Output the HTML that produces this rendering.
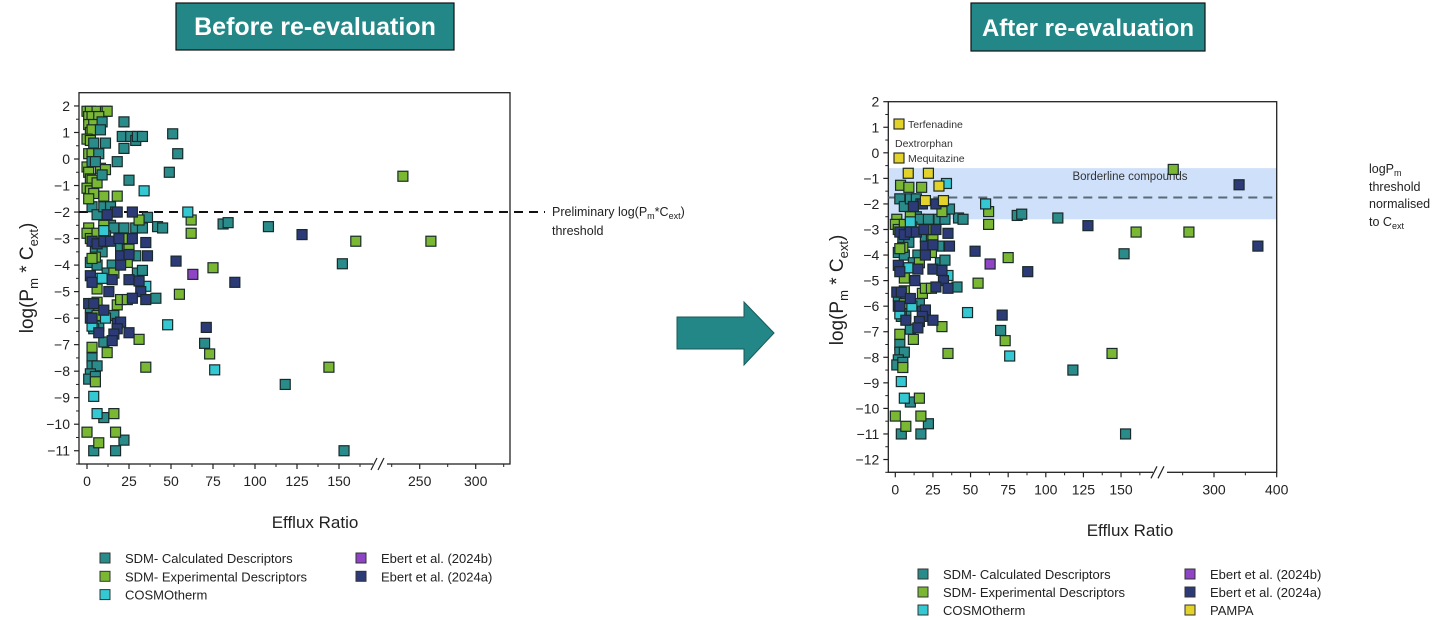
<!DOCTYPE html>
<html><head><meta charset="utf-8"><title>Efflux ratio before/after re-evaluation</title>
<style>
html,body{margin:0;padding:0;background:#fff;}
svg{display:block;font-family:"Liberation Sans",Arial,sans-serif;}
.tt{font-family:"Liberation Sans",sans-serif;font-weight:bold;fill:#fff;font-size:25px;}
</style></head>
<body>
<svg id="fig" width="1439" height="620" viewBox="0 0 1439 620" xmlns="http://www.w3.org/2000/svg">
  <g>
    <rect x="176" y="3" width="278" height="47" fill="#238787" stroke="#111" stroke-width="1.2"/>
    <text class="tt" x="315" y="35" text-anchor="middle">Before re-evaluation</text>
  </g>
  <g>
    <rect x="971" y="3" width="234" height="48" fill="#238787" stroke="#111" stroke-width="1.2"/>
    <text class="tt" x="1088" y="36" text-anchor="middle" style="font-size:24px">After re-evaluation</text>
  </g>
  <polygon points="677,317 744,317 744,302 774,333 744,365 744,349 677,349" fill="#238787" stroke="#1a5a5a" stroke-width="1"/>
  <g id="left"></g>
  <g id="right"></g>
</svg>
<script>
// series: T=SDM calculated, G=SDM experimental, C=COSMOtherm, P=Ebert 2024b, N=Ebert 2024a, Y=PAMPA
const sharedX = [3,6,10,14,17,14,16,22,29,33,42,45,36,81,84,108,11,20,24,29,5,9,2,6,15,12,30,33,41,2,7,16,5,7,10,4,3,3,6,2,1,5,10,22,4,17,118,70,152,153,
 1,0,2,6,10,22,25,24,16,5,3,6,6,18,20,24,6,31,62,62,75,55,31,3,12,35,73,144,5,16,17,0,7,235,160,260,
 34,60,10,7,9,35,11,3,48,76,4,6,
 27,18,12,3,6,10,14,19,27,35,36,20,25,20,2,3,15,25,31,13,32,27,35,1,4,2,3,10,18,20,18,16,7,25,15,53,88,71,128,
 63];
const sharedY = [-1.8,-2.1,-1.8,-1.8,-2.0,-2.5,-2.6,-2.6,-2.6,-2.6,-2.55,-2.6,-2.2,-2.45,-2.4,-2.55,-2.9,-3.3,-3.4,-3.65,-3.5,-3.5,-3.9,-4.0,-4.0,-4.3,-4.3,-4.2,-5.25,-5.6,-5.7,-5.9,-6.2,-6.3,-6.9,-6.4,-7.5,-7.8,-7.8,-8.1,-8.3,-8.2,-9.75,-10.6,-11,-11,-8.5,-6.95,-3.95,-11,
 -2.6,-2.8,-3.0,-2.8,-2.5,-3.0,-3.4,-3.9,-4.3,-3.7,-3.75,-4.9,-5.4,-5.5,-5.3,-5.3,-5.9,-2.3,-2.3,-2.8,-4.1,-5.1,-6.8,-7.1,-7.3,-7.85,-7.35,-7.85,-8.4,-9.6,-10.3,-10.3,-10.7,-0.65,-3.1,-3.1,
 -1.2,-2.0,-2.7,-4.5,-4.5,-4.8,-6.0,-6.3,-6.25,-7.95,-8.95,-9.6,
 -2.0,-2.0,-2.1,-3.1,-3.2,-3.1,-3.1,-3.0,-3.0,-3.15,-3.65,-3.65,-3.6,-4.0,-4.4,-4.65,-4.55,-4.55,-4.6,-5.0,-5.0,-5.25,-5.3,-5.45,-5.45,-6.0,-6.0,-5.7,-6.2,-6.15,-6.4,-6.6,-6.55,-6.55,-6.85,-3.85,-4.65,-6.35,-2.85,
 -4.35];
const sharedS = "TTTTTTTTTTTTTTTTTTTTTTTTTTTTTTTTTTTTTTTTTTTTTTTTTT"+"GGGGGGGGGGGGGGGGGGGGGGGGGGGGGGGGGGGG"+"CCCCCCCCCCCC"+"NNNNNNNNNNNNNNNNNNNNNNNNNNNNNNNNNNNNNNN"+"P";
const leftOnlyX = [0,2,6,11,12,1,3,7,1,4,2,3,0,2,1,3,0,1,2,3,8,11,0,2,4,10,18,1,6, 9,8,4,11,22,21,26,29,30,33,22,18,7,3,5,9,25,51,54,49];
const leftOnlyY = [1.8,1.8,1.8,1.8,1.8,1.6,1.6,1.6,1.3,1.3,1.0,1.1,0.75,0.7,0.2,0.2,-0.3,-0.5,-0.75,-0.8,-0.35,-0.4,-1.1,-1.2,-1.3,-1.4,-1.4,-1.5,-0.9, 1.4,1.1,0.6,0.6,1.4,0.85,0.85,0.7,0.85,0.85,0.4,-0.1,0.2,-0.1,-0.1,-0.6,-0.8,0.95,0.2,-0.5];
const leftOnlyS = "GGGGGGGGGGGGGGGGGGGGGGGGGGGGG"+"TTTTTTTTTTTTTTTTTTTT";
const rightOnlyX = [3.5,9,17.5,8.6,22,29,20,32,340,370];
const rightOnlyY = [-1.27,-1.35,-1.35,-0.8,-0.8,-1.3,-1.87,-1.87,-1.25,-3.65];
const rightOnlyS = "GGGYYYYYNN";
const yTicks = [2,1,0,-1,-2,-3,-4,-5,-6,-7,-8,-9,-10,-11,-12];
const leftXTicks = [0,25,50,75,100,125,150,250,300];
const rightXTicks = [0,25,50,75,100,125,150,300,400];
const legendLabels = ["SDM- Calculated Descriptors","SDM- Experimental Descriptors","COSMOtherm","Ebert et al. (2024b)","Ebert et al. (2024a)","PAMPA"];
const legendKeys = "TGCPNY";
const leftThreshold = -2;
const rightThreshold = -1.75;
const bandTop = -0.6, bandBottom = -2.6;

const COL = {T:"#2a8c8a",G:"#7ab833",C:"#34c8d2",P:"#8e44c4",N:"#2c3a78",Y:"#e2d22a"};
const NS = "http://www.w3.org/2000/svg";
function mk(parent, tag, attrs, text){
  const e = document.createElementNS(NS, tag);
  for (const k in attrs) e.setAttribute(k, attrs[k]);
  if (text !== undefined) e.textContent = text;
  parent.appendChild(e); return e;
}

function drawPlot(g, cfg){
  const {x0,x1,yTop,yBot,yMax,yMin,xm,brk} = cfg;
  const ys = v => yTop + (yMax - v) * (yBot - yTop) / (yMax - yMin);
  if (cfg.band){
    const b = mk(g,"rect",{x:x0,y:ys(bandTop),width:x1-x0,height:ys(bandBottom)-ys(bandTop),fill:"#cfe0fa"});
    
    
    const bt = mk(g,"text",{x:1130,y:ys(bandTop)+12,"text-anchor":"middle","font-size":"11.5",fill:"#333"},"Borderline compounds");
    
    
  }
  const fr = mk(g,"rect",{x:x0,y:yTop,width:x1-x0,height:yBot-yTop,fill:"none",stroke:"#222","stroke-width":"1.3"});
  
  
  yTicks.forEach(v=>{
    if (v < yMin || v > yMax) return;
    const y = ys(v);
    mk(g,"line",{x1:x0-5,x2:x0,y1:y,y2:y,stroke:"#222","stroke-width":"1.2"});
    if (v-0.5 >= yMin) mk(g,"line",{x1:x0-3,x2:x0,y1:ys(v-0.5),y2:ys(v-0.5),stroke:"#222","stroke-width":"1"});
    const t = mk(g,"text",{x:x0-9,y:y+5,"text-anchor":"end","font-size":"14",fill:"#222"},v<0?"\u2212"+(-v):String(v));
    
    
  });
  cfg.xticks.forEach(v=>{
    const x = xm(v);
    mk(g,"line",{x1:x,x2:x,y1:yBot,y2:yBot+5,stroke:"#222","stroke-width":"1.2"});
    const t = mk(g,"text",{x:x,y:yBot+22,"text-anchor":"middle","font-size":"14",fill:"#222"},String(v));
    
    
  });
  cfg.minor.forEach(v=>{ const x=xm(v); mk(g,"line",{x1:x,x2:x,y1:yBot,y2:yBot+3,stroke:"#222"}); });
  mk(g,"rect",{x:brk-7,y:yBot-3,width:14,height:8,fill:"#fff"});
  mk(g,"line",{x1:brk-9,y1:yBot+6,x2:brk-3,y2:yBot-6,stroke:"#222","stroke-width":"1.2"});
  mk(g,"line",{x1:brk-2,y1:yBot+6,x2:brk+4,y2:yBot-6,stroke:"#222","stroke-width":"1.2"});
  const th = mk(g,"line",{x1:x0,x2:cfg.thEnd,y1:ys(cfg.th),y2:ys(cfg.th),stroke:cfg.thColor,"stroke-width":"2","stroke-dasharray":cfg.dash});
  
  
  cfg.sets.forEach(([X,Y,S])=>{
    for (let i=0;i<X.length;i++){
      const px = xm(X[i]), py = ys(Y[i]);
      const r = mk(g,"rect",{x:px-5,y:py-5,width:10,height:10,fill:COL[S[i]],stroke:"#1a2a2a","stroke-width":"1.2"});
      
      
    }
  });
  return ys;
}

const L = document.getElementById('left');
const xmL = v => v <= 200 ? 87 + v*1.68 : 419.7 + (v-250)*1.12;
drawPlot(L,{x0:79,x1:510,yTop:92.7,yBot:464,yMax:2.5,yMin:-11.5,xm:xmL,brk:380,
  xticks:leftXTicks,minor:[12.5,37.5,62.5,87.5,112.5,137.5,162.5,225,275,325],
  th:leftThreshold,thEnd:545,thColor:"#111",dash:"9,6",
  sets:[[sharedX,sharedY,sharedS],[leftOnlyX,leftOnlyY,leftOnlyS]]});

const R = document.getElementById('right');
const xmR = v => v <= 200 ? 895.3 + v*1.505 : 1214 + (v-300)*0.627;
drawPlot(R,{x0:888.3,x1:1276.7,yTop:101.7,yBot:472.3,yMax:2,yMin:-12.5,xm:xmR,brk:1160,band:true,
  xticks:rightXTicks,minor:[12.5,37.5,62.5,87.5,112.5,137.5,162.5,250,350],
  th:rightThreshold,thEnd:1276.7,thColor:"#5a6a7a",dash:"9,6",
  sets:[[sharedX,sharedY,sharedS],[rightOnlyX,rightOnlyY,rightOnlyS]]});

function addText(parent,attrs,html,name){
  const t = mk(parent,"text",attrs);
  t.innerHTML = html;
  
  
  return t;
}
const F = document.getElementById('fig');
addText(F,{x:0,y:0,transform:"translate(33,278) rotate(-90)","text-anchor":"middle","font-size":"19",fill:"#222"},
 'log(P<tspan font-size="13" dy="5">m</tspan><tspan dy="-5"> * C</tspan><tspan font-size="13" dy="5">ext</tspan><tspan dy="-5">)</tspan>','left-y-axis-title');
addText(F,{x:0,y:0,transform:"translate(843,290) rotate(-90)","text-anchor":"middle","font-size":"19",fill:"#222"},
 'log(P<tspan font-size="13" dy="5">m</tspan><tspan dy="-5"> * C</tspan><tspan font-size="13" dy="5">ext</tspan><tspan dy="-5">)</tspan>','right-y-axis-title');
addText(F,{x:315,y:528,"text-anchor":"middle","font-size":"17",fill:"#222"},'Efflux Ratio','left-x-axis-title');
addText(F,{x:1130,y:536,"text-anchor":"middle","font-size":"17",fill:"#222"},'Efflux Ratio','right-x-axis-title');
addText(F,{x:552,y:216,"font-size":"12.5",fill:"#222"},'Preliminary log(P<tspan font-size="9" dy="3">m</tspan><tspan dy="-3">*C</tspan><tspan font-size="9" dy="3">ext</tspan><tspan dy="-3">)</tspan>','left-threshold-label');
addText(F,{x:552,y:235,"font-size":"12.5",fill:"#222"},'threshold','left-threshold-label-2');
addText(F,{x:1369,y:173,"font-size":"12.5",fill:"#222"},'logP<tspan font-size="9" dy="3">m</tspan>','right-threshold-label');
addText(F,{x:1369,y:191,"font-size":"12.5",fill:"#222"},'threshold','right-threshold-label-2');
addText(F,{x:1369,y:208,"font-size":"12.5",fill:"#222"},'normalised','right-threshold-label-3');
addText(F,{x:1369,y:226,"font-size":"12.5",fill:"#222"},'to C<tspan font-size="9" dy="3">ext</tspan>','right-threshold-label-4');
const ann = [[899,124,"Y","Terfenadine"],[899,158,"Y","Mequitazine"]];
ann.forEach(a=>{
  const r = mk(F,"rect",{x:a[0]-5,y:a[1]-5,width:10,height:10,fill:COL[a[2]],stroke:"#222","stroke-width":"1.1"});
  
  
  addText(F,{x:a[0]+9,y:a[1]+4,"font-size":"10.5",fill:"#333"},a[3],'annotation-'+a[3].toLowerCase());
});
addText(F,{x:895,y:147,"font-size":"10.5",fill:"#333"},'Dextrorphan','annotation-dextrorphan');

function legend(items, col1x, col2x, y0, dy){
  items.forEach((k,i)=>{
    const c = i<3 ? 0 : 1, row = i<3 ? i : i-3;
    const mx = c ? col2x : col1x, y = y0 + row*dy;
    const r = mk(F,"rect",{x:mx-5,y:y-5,width:10,height:10,fill:COL[k],stroke:"#333","stroke-width":"1"});
    
    
    addText(F,{x:mx+20,y:y+5,"font-size":"13",fill:"#222"},legendLabels[legendKeys.indexOf(k)],'legend-entry');
  });
}
legend(["T","G","C","P","N"],105,361,558,18.3);
legend(["T","G","C","P","N","Y"],923,1190,574,18);
</script>
</body></html>
